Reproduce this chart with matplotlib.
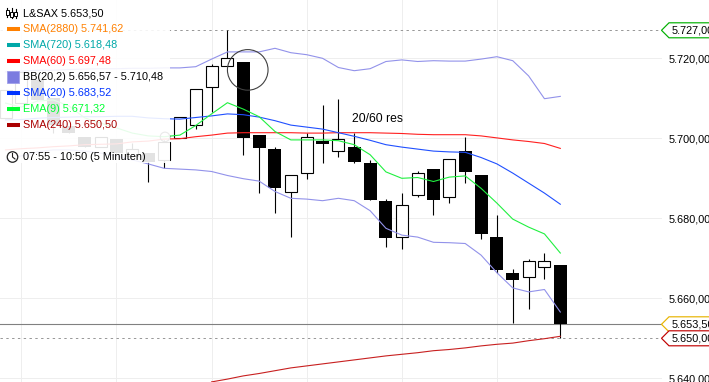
import matplotlib
matplotlib.use("Agg")
import matplotlib.pyplot as plt
from matplotlib.patches import Rectangle, Ellipse, Polygon
from matplotlib.lines import Line2D

plt.rcParams['font.family'] = ['Liberation Sans', 'DejaVu Sans']

W, H = 709, 382

# candles: index 0..35 (07:55 - 10:50, 5 minutes)
body_top = [5712.0, 5716.6, 5714.6, 5710.1, 5703.1, 5700.3, 5700.3, 5699.8, 5697.3, 5696.4,
            5699.2, 5705.3, 5712.3, 5718.0, 5720.0, 5719.1, 5700.8, 5697.4, 5690.8, 5700.3,
            5699.4, 5699.8, 5697.8, 5693.8, 5684.4, 5683.3, 5691.3, 5692.3, 5694.8, 5696.8,
            5690.8, 5675.3, 5666.3, 5669.3, 5669.3, 5668.3]
body_bot = [5705.0, 5708.8, 5709.6, 5703.3, 5701.3, 5697.8, 5697.8, 5696.3, 5695.6, 5694.2,
            5694.7, 5700.2, 5703.3, 5712.8, 5718.0, 5700.2, 5697.7, 5687.7, 5686.7, 5691.3,
            5698.7, 5696.8, 5694.2, 5684.7, 5675.2, 5675.3, 5685.8, 5684.7, 5685.3, 5691.7,
            5676.2, 5667.2, 5664.7, 5665.3, 5667.8, 5653.5]
highs =    [5712.0, 5716.6, 5714.6, 5710.1, 5703.1, 5700.3, 5700.3, 5699.8, 5698.8, 5696.4,
            5699.6, 5705.3, 5712.3, 5718.5, 5727.0, 5719.1, 5700.8, 5697.8, 5690.8, 5701.3,
            5708.3, 5709.8, 5701.3, 5694.6, 5684.8, 5686.3, 5691.8, 5692.3, 5694.8, 5700.3,
            5690.8, 5680.8, 5667.3, 5669.8, 5671.3, 5668.3]
lows =     [5705.0, 5708.8, 5709.6, 5701.3, 5701.3, 5697.8, 5697.8, 5696.3, 5695.6, 5689.2,
            5692.6, 5700.2, 5702.3, 5706.7, 5718.0, 5695.8, 5686.3, 5681.3, 5675.3, 5689.8,
            5693.8, 5695.3, 5693.8, 5684.7, 5672.8, 5672.3, 5685.3, 5680.8, 5683.8, 5688.8,
            5674.8, 5666.3, 5653.9, 5657.3, 5664.8, 5650.0]
is_up = [1, 1, 0, 0, 0, 0, 1, 0, 1, 0,
         1, 1, 1, 1, 1, 0, 0, 0, 1, 1,
         0, 1, 0, 0, 0, 1, 1, 0, 1, 0,
         0, 0, 0, 1, 1, 0]

bb_upper = [5716.6, 5716.8, 5717.0, 5717.0, 5717.2, 5717.3, 5717.4, 5717.4, 5717.5, 5717.5,
            5717.6, 5717.6, 5717.9, 5719.8, 5721.6, 5721.6, 5721.6, 5722.5, 5721.4, 5720.9,
            5720.0, 5717.7, 5716.9, 5717.4, 5719.2, 5719.6, 5719.2, 5719.4, 5719.3, 5719.3,
            5719.8, 5720.4, 5719.4, 5715.6, 5709.9, 5710.48]
bb_lower = [5694.6, 5695.6, 5696.6, 5697.1, 5697.1, 5696.8, 5696.3, 5695.6, 5694.6, 5693.6,
            5692.5, 5692.3, 5692.1, 5691.7, 5690.7, 5689.9, 5689.3, 5686.7, 5685.0, 5684.8,
            5684.4, 5685.0, 5684.4, 5681.9, 5677.5, 5675.8, 5675.3, 5674.0, 5673.9, 5673.7,
            5670.8, 5666.4, 5662.6, 5661.6, 5662.2, 5656.57]
sma20 = [5704.6, 5704.7, 5705.0, 5705.2, 5705.3, 5705.4, 5705.4, 5705.5, 5705.5, 5705.1,
         5704.9, 5704.8, 5705.2, 5705.6, 5706.1, 5705.9, 5705.3, 5704.4, 5703.3, 5702.8,
         5702.3, 5701.4, 5700.5, 5699.5, 5698.4, 5697.8, 5697.3, 5696.8, 5696.6, 5696.5,
         5695.2, 5693.6, 5691.3, 5688.8, 5686.3, 5683.52]
ema9 = [5708.8, 5707.8, 5709.3, 5709.6, 5708.1, 5705.1, 5703.8, 5702.6, 5701.3, 5700.6,
        5700.4, 5700.8, 5703.2, 5706.1, 5708.9, 5707.3, 5705.4, 5701.7, 5699.6, 5699.6,
        5699.6, 5699.4, 5698.4, 5695.9, 5691.6, 5690.0, 5690.2, 5689.2, 5690.3, 5690.6,
        5687.5, 5683.8, 5679.8, 5677.8, 5676.1, 5671.32]
sma60 = [5697.1, 5697.4, 5697.6, 5697.9, 5698.1, 5698.4, 5698.5, 5698.6, 5699.1, 5699.3,
         5699.8, 5699.9, 5700.4, 5700.8, 5701.3, 5701.4, 5701.4, 5701.4, 5701.4, 5701.3,
         5701.3, 5701.4, 5701.4, 5701.4, 5701.3, 5701.2, 5701.0, 5700.9, 5700.9, 5700.9,
         5700.6, 5700.1, 5699.6, 5699.2, 5698.7, 5697.48]
sma240_start = 13
sma240 = [5639.1, 5639.8, 5640.6, 5641.2, 5641.9, 5642.6, 5643.1, 5643.6, 5644.1, 5644.6,
          5645.1, 5645.6, 5646.0, 5646.4, 5646.9, 5647.2, 5647.6, 5648.1, 5648.5, 5648.8,
          5649.4, 5649.9, 5650.5]

y_ticks = [5640, 5660, 5680, 5700, 5720]
y_labels = ['5.640,00', '5.660,00', '5.680,00', '5.700,00', '5.720,00']
grid_x = [1, 7, 13, 19, 25, 31]

price_high, price_low, price_last = 5727.0, 5650.0, 5653.5
tags = [(5727.0, '5.727,00', '#00b000'),
        (5653.5, '5.653,50', '#e8b400'),
        (5650.0, '5.650,00', '#c00000')]

legend_rows = [('L&SAX 5.653,50', '#000000', None),
               ('SMA(2880) 5.741,62', '#ff8000', '#ff8000'),
               ('SMA(720) 5.618,48', '#00a8a8', '#00a8a8'),
               ('SMA(60) 5.697,48', '#ff0000', '#ff0000'),
               ('BB(20,2) 5.656,57 - 5.710,48', '#000000', None),
               ('SMA(20) 5.683,52', '#0033ff', '#0033ff'),
               ('EMA(9) 5.671,32', '#00ff33', '#00ff33'),
               ('SMA(240) 5.650,50', '#aa0000', '#aa0000')]
time_label = '07:55 - 10:50 (5 Minuten)'
note = '20/60 res'
FS = 7.85


def fx(px):
    return px / W


def fy(py):
    return 1 - py / H


fig = plt.figure(figsize=(W / 100, H / 100), dpi=100, facecolor='white')
ax_right = 661.5
ax = fig.add_axes([0, 0, ax_right / W, 1])
ax.set_xlim((0 - 560.3) / 15.85 + 35, (ax_right - 560.3) / 15.85 + 35)
ax.set_ylim(5734.575 - H / 4, 5734.575)
for s in ax.spines.values():
    s.set_visible(False)
ax.set_facecolor('white')
ax.yaxis.tick_right()
ax.set_yticks(y_ticks)
ax.set_yticklabels(y_labels, fontsize=FS, color='black')
ax.tick_params(axis='y', length=0, pad=5.3)
ax.set_xticks(grid_x)
ax.tick_params(axis='x', length=0, labelbottom=False)
ax.grid(True, color='#eeeeee', lw=0.72)
ax.set_axisbelow(True)

idx = list(range(36))
# price lines
dash = (0, (2.4, 3.4))
ax.axhline(price_high, color='#999999', lw=0.72, ls=dash, zorder=1.5)
ax.axhline(price_low, color='#999999', lw=0.72, ls=dash, zorder=1.5)
ax.axhline(price_last, color='#808080', lw=0.8, zorder=1.5)

# candles
up_w, dn_w = 12.0 / 15.85, 13.0 / 15.85
for i in idx:
    ax.vlines(i, lows[i], highs[i], color='black', lw=0.8, zorder=2)
    h = body_top[i] - body_bot[i]
    if is_up[i]:
        ax.bar(i, h, up_w, body_bot[i], facecolor='white', edgecolor='black', linewidth=0.8, zorder=2.2)
    else:
        ax.bar(i, h, dn_w, body_bot[i], facecolor='black', edgecolor='black', linewidth=0, zorder=2.2)

# indicators
LW = 0.8
ax.plot(idx, bb_upper, color='#9292ea', lw=LW, zorder=3)
ax.plot(idx, bb_lower, color='#9292ea', lw=LW, zorder=3)
ax.plot(idx, sma60, color='#ff2020', lw=LW, zorder=3)
ax.plot(idx, sma20, color='#2050ff', lw=LW, zorder=3.1)
ax.plot(idx, ema9, color='#20f040', lw=LW, zorder=3.2)
ax.plot(range(sma240_start, 36), sma240, color='#c82020', lw=LW, zorder=3)

# circle annotations
ax.add_patch(Ellipse((15.28, 5717.1), 40.6 / 15.85, 40.6 / 4, fill=False, ec='#404040', lw=0.8, zorder=4))
ax.add_patch(Ellipse((10.06, 5700.35), 9.5 / 15.85, 9.5 / 4, fill=False, ec='#404040', lw=0.8, zorder=4))
ax.text(21.85, 5704.9, note, fontsize=8.7, ha='left', va='center', color='black', zorder=4)

# veil behind legend
ax.add_patch(Rectangle((0, fy(163)), fx(169.5), 163 / H, transform=fig.transFigure,
                       facecolor='white', alpha=0.89, edgecolor='none', zorder=5))

# legend text
row_y = [13, 29, 45, 61, 77, 93, 109, 125]
for (label, col, sw), y in zip(legend_rows, row_y):
    ax.text(fx(23), fy(y), label, transform=fig.transFigure, fontsize=FS, color=col,
            va='center', ha='left', zorder=7)
    if sw:
        ax.add_line(Line2D([fx(7), fx(20)], [fy(y), fy(y)], transform=fig.transFigure, color=sw,
                           lw=2.9, zorder=7, solid_capstyle='butt'))
ax.add_patch(Rectangle((fx(7), fy(83)), 12 / W, 12 / H, transform=fig.transFigure,
                       facecolor='#7c7ce0', edgecolor='#a0a0ea', lw=0.6, zorder=7))
# candle glyph
for gx, y0, y1, b0, b1 in [(7.5, 8, 17, 10, 15), (11.5, 8, 18, 12, 17), (15.5, 9, 18, 12, 16)]:
    ax.add_line(Line2D([fx(gx), fx(gx)], [fy(y0), fy(y1)], transform=fig.transFigure,
                       color='black', lw=0.8, zorder=7))
    ax.add_patch(Rectangle((fx(gx - 1.3), fy(b1)), 2.6 / W, (b1 - b0) / H, transform=fig.transFigure,
                           facecolor='white', edgecolor='black', lw=0.7, zorder=7.1))
# clock
ax.text(fx(23), fy(157), time_label, transform=fig.transFigure, fontsize=FS, color='black',
        va='center', ha='left', zorder=7)
ax.add_patch(Ellipse((fx(12.5), fy(157)), 10.5 / W, 10.5 / H, transform=fig.transFigure,
                     facecolor='white', edgecolor='#202020', lw=0.9, zorder=7))
ax.add_line(Line2D([fx(12.5), fx(12.5), fx(15)], [fy(153.5), fy(157), fy(159)],
                   transform=fig.transFigure, color='#202020', lw=0.8, zorder=7.1))

# price tags at right
for val, label, col in tags:
    _, ypx = ax.transData.transform((0, val))
    yp = H - ypx
    pts = [(661.5, yp), (669, yp - 7.5), (720, yp - 7.5), (720, yp + 7.5), (669, yp + 7.5)]
    ax.add_patch(Polygon([(fx(a), fy(b)) for a, b in pts], closed=True, transform=fig.transFigure,
                         facecolor='white', edgecolor=col, lw=0.85, clip_on=False, zorder=8))
    ax.text(fx(672), fy(yp + 0.5), label, transform=fig.transFigure, fontsize=FS, color='black',
            va='center', ha='left', clip_on=False, zorder=9)

fig.savefig('out.png', dpi=100)
